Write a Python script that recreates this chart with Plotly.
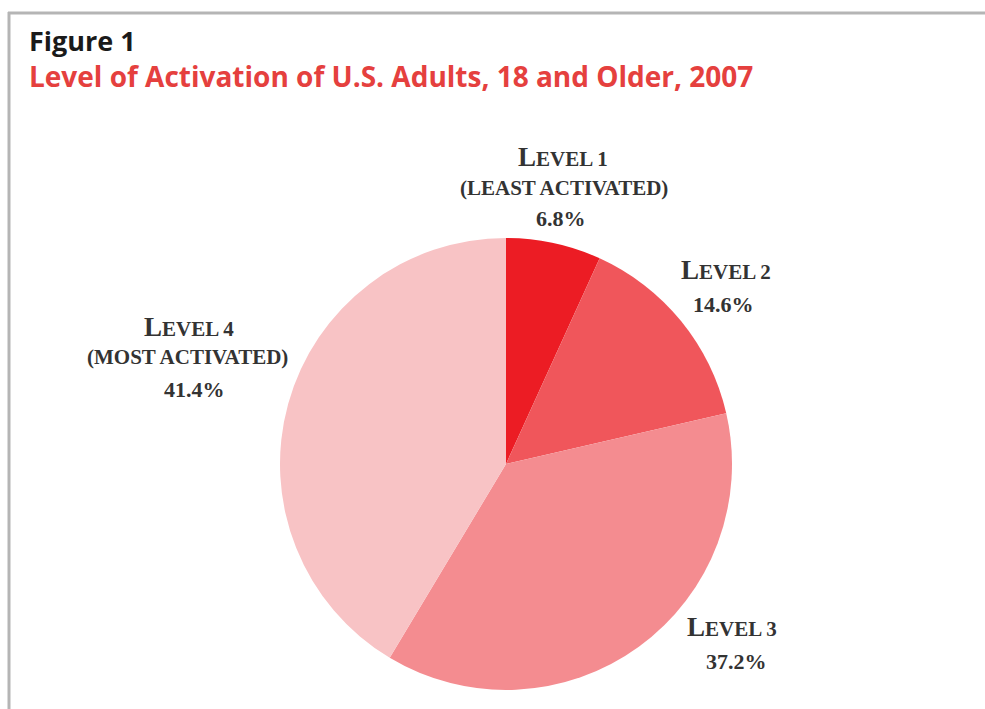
import plotly.graph_objects as go

levels = ["Level 1", "Level 2", "Level 3", "Level 4"]
subtitles = ["(least activated)", "", "", "(most activated)"]
values = [6.8, 14.6, 37.2, 41.4]
colors = ["#EC1C24", "#F0565B", "#F48C90", "#F8C3C5"]

W, H = 985, 709

fig = go.Figure()
fig.add_trace(go.Pie(
    labels=levels, values=values, sort=False, direction="clockwise", rotation=0,
    marker=dict(colors=colors, line=dict(width=0)),
    textinfo="none", hoverinfo="label+percent", showlegend=False,
    domain=dict(x=[280 / W, 732 / W], y=[1 - 690 / H, 1 - 238 / H]),
))

SERIF = "Liberation Serif, serif"
TXT = "#333333"

def smallcaps(s, big=27, small=21):
    out = ""
    for w_i, word in enumerate(s.split(" ")):
        if w_i:
            out += " "
        first = word[0]
        rest = word[1:]
        if first.isalpha() and first.isupper():
            out += f"<span style='font-size:{big}px'>{first}</span>"
            if rest:
                out += f"<span style='font-size:{small}px'>{rest.upper()}</span>"
        else:
            out += f"<span style='font-size:{small}px'>{word.upper()}</span>"
    return out

# label line positions (pixel centres) per slice
label_pos = {
    0: [(563, 157), (564, 188), (561, 219)],
    1: [(726, 270), None, (723, 304)],
    2: [(732, 627), None, (736, 661)],
    3: [(189, 327), (187, 357), (194, 389)],
}

annotations = []
for i, lev in enumerate(levels):
    pos = label_pos[i]
    lines = [smallcaps(lev), smallcaps(subtitles[i]) if subtitles[i] else None,
             f"<span style='font-size:22px'>{values[i]:.1f}%</span>"]
    for txt, p in zip(lines, pos):
        if txt is None or p is None:
            continue
        annotations.append(dict(
            x=p[0] / W, y=1 - p[1] / H, xref="paper", yref="paper",
            text=f"<b>{txt}</b>", showarrow=False, xanchor="center", yanchor="middle",
            font=dict(family=SERIF, size=21, color=TXT),
        ))

annotations.append(dict(
    x=27 / W, y=1 - 40 / H, xref="paper", yref="paper", text="<b>Figure 1</b>",
    showarrow=False, xanchor="left", yanchor="middle",
    font=dict(family="Open Sans, sans-serif", size=27, color="#1a1a1a"),
))
annotations.append(dict(
    x=27 / W, y=1 - 76 / H, xref="paper", yref="paper",
    text="<b>Level of Activation of U.S. Adults, 18 and Older, 2007</b>",
    showarrow=False, xanchor="left", yanchor="middle",
    font=dict(family="Open Sans, sans-serif", size=28, color="#E5403E"),
))

shapes = [
    dict(type="line", xref="paper", yref="paper", x0=8 / W, x1=1, y0=1 - 13 / H, y1=1 - 13 / H,
         line=dict(color="#B5B5B5", width=3)),
    dict(type="line", xref="paper", yref="paper", x0=9 / W, x1=9 / W, y0=1 - 12 / H, y1=0,
         line=dict(color="#B5B5B5", width=3)),
]

fig.update_layout(
    width=W, height=H, margin=dict(l=0, r=0, t=0, b=0),
    paper_bgcolor="white", plot_bgcolor="white",
    annotations=annotations, shapes=shapes,
)

fig.write_html("out.html")
